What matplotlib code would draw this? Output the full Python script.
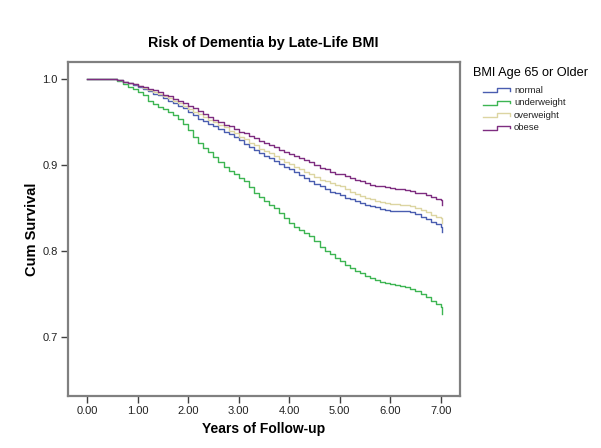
import matplotlib
matplotlib.use("Agg")
import matplotlib.pyplot as plt
from matplotlib.lines import Line2D
import numpy as np

plt.rcParams['font.family'] = ['Liberation Sans', 'DejaVu Sans']

# ---- data ----
# follow-up time grid (years): start, then every 0.1 year from 0.6 to 7.0, then final censoring drop
times = [0.0] + [round(0.6 + 0.1 * i, 1) for i in range(65)] + [7.02]

normal = [1.0,
          0.999, 0.997, 0.995, 0.993, 0.991, 0.989, 0.986, 0.983, 0.981, 0.978,
          0.975, 0.972, 0.969, 0.966, 0.962, 0.958, 0.954, 0.951, 0.948, 0.945,
          0.942, 0.939, 0.936, 0.933, 0.929, 0.925, 0.921, 0.917, 0.914, 0.911,
          0.908, 0.905, 0.901, 0.898, 0.895, 0.892, 0.888, 0.885, 0.881, 0.878,
          0.875, 0.872, 0.869, 0.867, 0.865, 0.862, 0.860, 0.858, 0.856, 0.854,
          0.852, 0.851, 0.849, 0.848, 0.847, 0.847, 0.846, 0.846, 0.845, 0.843,
          0.840, 0.837, 0.834, 0.831, 0.828,
          0.822]
underweight = [1.0,
               0.998, 0.994, 0.991, 0.988, 0.985, 0.981, 0.975, 0.971, 0.968, 0.965,
               0.962, 0.958, 0.954, 0.948, 0.941, 0.933, 0.926, 0.920, 0.915, 0.909,
               0.903, 0.898, 0.893, 0.889, 0.885, 0.881, 0.874, 0.868, 0.863, 0.858,
               0.854, 0.850, 0.844, 0.838, 0.833, 0.828, 0.824, 0.821, 0.817, 0.812,
               0.805, 0.800, 0.796, 0.792, 0.788, 0.784, 0.780, 0.777, 0.774, 0.771,
               0.768, 0.766, 0.764, 0.763, 0.761, 0.760, 0.759, 0.758, 0.756, 0.753,
               0.750, 0.746, 0.742, 0.738, 0.735,
               0.727]
overweight = [1.0,
              0.999, 0.997, 0.996, 0.994, 0.992, 0.990, 0.987, 0.985, 0.983, 0.980,
              0.978, 0.975, 0.972, 0.969, 0.965, 0.962, 0.959, 0.956, 0.953, 0.950,
              0.947, 0.944, 0.940, 0.937, 0.933, 0.930, 0.926, 0.923, 0.919, 0.916,
              0.914, 0.911, 0.907, 0.904, 0.901, 0.898, 0.895, 0.892, 0.889, 0.886,
              0.883, 0.881, 0.879, 0.877, 0.875, 0.872, 0.869, 0.866, 0.864, 0.862,
              0.860, 0.858, 0.857, 0.856, 0.855, 0.855, 0.854, 0.853, 0.852, 0.850,
              0.848, 0.845, 0.842, 0.840, 0.838,
              0.833]
obese = [1.0,
         0.999, 0.997, 0.995, 0.994, 0.992, 0.991, 0.989, 0.987, 0.985, 0.982,
         0.980, 0.977, 0.975, 0.972, 0.969, 0.966, 0.963, 0.960, 0.956, 0.953,
         0.950, 0.947, 0.945, 0.942, 0.939, 0.937, 0.934, 0.931, 0.928, 0.926,
         0.923, 0.921, 0.918, 0.915, 0.913, 0.910, 0.908, 0.906, 0.903, 0.900,
         0.897, 0.895, 0.892, 0.890, 0.889, 0.887, 0.885, 0.883, 0.881, 0.879,
         0.877, 0.876, 0.875, 0.874, 0.873, 0.872, 0.872, 0.871, 0.870, 0.868,
         0.867, 0.865, 0.863, 0.861, 0.859,
         0.8535]

series_names = ["normal", "underweight", "overweight", "obese"]
series_values = [normal, underweight, overweight, obese]
colors = ["#4a5db0", "#3db552", "#dcd5a2", "#7e2d80"]

xticks = [0, 1, 2, 3, 4, 5, 6, 7]
xtick_labels = ["0.00", "1.00", "2.00", "3.00", "4.00", "5.00", "6.00", "7.00"]
yticks = [0.7, 0.8, 0.9, 1.0]
ytick_labels = ["0.7", "0.8", "0.9", "1.0"]

# ---- figure ----
fig = plt.figure(figsize=(6.01, 4.48), dpi=100)
ax = fig.add_axes([0.1131, 0.1161, 0.6522, 0.7455])

draw_order = [1, 0, 2, 3]
for i in draw_order:
    ax.step(times, series_values[i], where="post", color=colors[i], lw=1.0)

ax.set_xlim(-0.38, 7.38)
ax.set_ylim(0.631, 1.020)
ax.set_xticks(xticks)
ax.set_xticklabels(xtick_labels)
ax.set_yticks(yticks)
ax.set_yticklabels(ytick_labels)
ax.tick_params(direction="out", length=5, width=1, color="#404040",
               labelsize=8, labelcolor="#222222", pad=2.5)
for sp in ax.spines.values():
    sp.set_color("#808080")
    sp.set_linewidth(1.6)

ax.set_xlabel("Years of Follow-up", fontsize=10, fontweight="bold", labelpad=4)
ax.set_ylabel("Cum Survival", fontsize=10.5, fontweight="bold", labelpad=2)
fig.text(0.438, 0.903, "Risk of Dementia by Late-Life BMI", ha="center", va="center",
         fontsize=10.3, fontweight="bold")

# ---- legend (step-shaped handles) ----
W, H = 601.0, 448.0
fig.text(473 / W, 1 - 72.5 / H, "BMI Age 65 or Older", ha="left", va="center",
         fontsize=9.2)
rows_y = [90, 102.3, 115, 127.3]
for name, col, yy in zip(series_names, colors, rows_y):
    xs = np.array([483, 497, 497, 510, 510]) / W
    ys = 1 - np.array([yy + 2.5, yy + 2.5, yy - 1.5, yy - 1.5, yy + 1.0]) / H
    fig.add_artist(Line2D(xs, ys, color=col, lw=1.0, transform=fig.transFigure))
    fig.text(514 / W, 1 - yy / H, name, ha="left", va="center", fontsize=6.8,
             color="#222222")

fig.savefig("out.png", dpi=100)
